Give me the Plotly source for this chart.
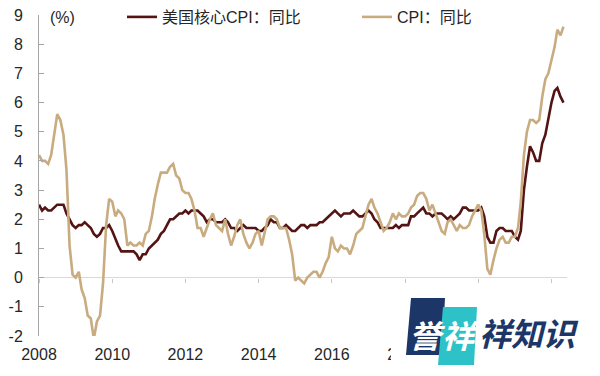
import pandas as pd
import plotly.graph_objects as go

# ---------------- data (monthly, Jan 2008 - May 2022), % YoY ----------------
start_month = "2008-01-01"
series_core_name = "美国核心CPI：同比"
series_cpi_name = "CPI：同比"

core_cpi = [
    2.5, 2.3, 2.4, 2.3, 2.3, 2.4, 2.5, 2.5, 2.5, 2.2, 2.0, 1.8,   # 2008
    1.7, 1.8, 1.8, 1.9, 1.8, 1.7, 1.5, 1.4, 1.5, 1.7, 1.7, 1.8,   # 2009
    1.6, 1.3, 1.1, 0.9, 0.9, 0.9, 0.9, 0.9, 0.8, 0.6, 0.8, 0.8,   # 2010
    1.0, 1.1, 1.2, 1.3, 1.5, 1.6, 1.8, 2.0, 2.0, 2.1, 2.2, 2.2,   # 2011
    2.3, 2.2, 2.3, 2.3, 2.3, 2.2, 2.1, 1.9, 2.0, 2.0, 1.9, 1.9,   # 2012
    1.9, 2.0, 1.9, 1.7, 1.7, 1.6, 1.7, 1.8, 1.7, 1.7, 1.7, 1.7,   # 2013
    1.6, 1.6, 1.7, 1.8, 2.0, 1.9, 1.9, 1.7, 1.7, 1.8, 1.7, 1.6,   # 2014
    1.6, 1.7, 1.8, 1.8, 1.7, 1.8, 1.8, 1.8, 1.9, 1.9, 2.0, 2.1,   # 2015
    2.2, 2.3, 2.2, 2.1, 2.2, 2.2, 2.2, 2.3, 2.2, 2.1, 2.1, 2.2,   # 2016
    2.3, 2.2, 2.0, 1.9, 1.7, 1.7, 1.7, 1.7, 1.7, 1.8, 1.7, 1.8,   # 2017
    1.8, 1.8, 2.1, 2.1, 2.2, 2.3, 2.4, 2.2, 2.2, 2.1, 2.2, 2.2,   # 2018
    2.2, 2.1, 2.0, 2.1, 2.0, 2.1, 2.2, 2.4, 2.4, 2.3, 2.3, 2.3,   # 2019
    2.3, 2.4, 2.1, 1.4, 1.2, 1.2, 1.6, 1.7, 1.7, 1.6, 1.6, 1.6,   # 2020
    1.4, 1.3, 1.6, 3.0, 3.8, 4.5, 4.3, 4.0, 4.0, 4.6, 4.9, 5.5,   # 2021
    6.0, 6.4, 6.5, 6.2, 6.0,                                      # 2022
]

headline_cpi = [
    4.2, 4.0, 4.0, 3.9, 4.2, 5.0, 5.6, 5.4, 4.9, 3.7, 1.1, 0.1,   # 2008
    0.0, 0.2, -0.4, -0.7, -1.3, -1.4, -2.1, -1.5, -1.3, -0.2, 1.8, 2.7,  # 2009
    2.6, 2.1, 2.3, 2.2, 2.0, 1.1, 1.2, 1.1, 1.1, 1.2, 1.1, 1.5,   # 2010
    1.6, 2.1, 2.7, 3.2, 3.6, 3.6, 3.6, 3.8, 3.9, 3.5, 3.4, 3.0,   # 2011
    2.9, 2.9, 2.7, 2.3, 1.7, 1.7, 1.4, 1.7, 2.0, 2.2, 1.8, 1.7,   # 2012
    1.6, 2.0, 1.5, 1.1, 1.4, 1.8, 2.0, 1.5, 1.2, 1.0, 1.2, 1.5,   # 2013
    1.6, 1.1, 1.5, 2.0, 2.1, 2.1, 2.0, 1.7, 1.7, 1.7, 1.3, 0.8,   # 2014
    -0.1, 0.0, -0.1, -0.2, 0.0, 0.1, 0.2, 0.2, 0.0, 0.2, 0.5, 0.7,  # 2015
    1.4, 1.0, 0.9, 1.1, 1.0, 1.0, 0.8, 1.1, 1.5, 1.6, 1.7, 2.1,   # 2016
    2.5, 2.7, 2.4, 2.2, 1.9, 1.6, 1.7, 1.9, 2.2, 2.0, 2.2, 2.1,   # 2017
    2.1, 2.2, 2.4, 2.5, 2.8, 2.9, 2.9, 2.7, 2.3, 2.5, 2.2, 1.9,   # 2018
    1.6, 1.5, 1.9, 2.0, 1.8, 1.6, 1.8, 1.7, 1.7, 1.8, 2.1, 2.3,   # 2019
    2.5, 2.3, 1.5, 0.3, 0.1, 0.6, 1.0, 1.3, 1.4, 1.2, 1.2, 1.4,   # 2020
    1.4, 1.7, 2.6, 4.2, 5.0, 5.4, 5.4, 5.3, 5.4, 6.2, 6.8, 7.0,   # 2021
    7.5, 7.9, 8.5, 8.3, 8.6,                                      # 2022
]

tick_years = [2008, 2010, 2012, 2014, 2016, 2018, 2020, 2022]
label_years = [2008, 2010, 2012, 2014, 2016, 2018]   # later labels hidden by the logo
y_ticks = list(range(-2, 10))
y_tick_text = [str(v) for v in y_ticks]   # plain hyphen for negatives, as in the source

months = pd.date_range(start_month, periods=len(core_cpi), freq="MS")
tick_dates = [f"{y}-01-01" for y in tick_years]
label_dates = [f"{y}-01-01" for y in label_years]
label_text = [str(y) for y in label_years]

# ---------------- layout helpers (pixel -> paper) ----------------
W, H = 600, 376
L, R, T, B = 39, 567, 15, 336


def pxx(x):
    return (x - L) / (R - L)


def pxy(y):
    return (B - y) / (B - T)


FONT = "Liberation Sans, Arial, Noto Sans CJK SC, sans-serif"
CJK = "Noto Sans CJK SC, sans-serif"
CORE_COLOR = "#541414"
CPI_COLOR = "#c9ab80"

fig = go.Figure()
fig.add_trace(go.Scatter(
    x=months, y=core_cpi, mode="lines", name=series_core_name,
    line=dict(color=CORE_COLOR, width=2.6), hoverinfo="skip"))
fig.add_trace(go.Scatter(
    x=months, y=headline_cpi, mode="lines", name=series_cpi_name,
    line=dict(color=CPI_COLOR, width=2.6), hoverinfo="skip"))
# invisible helper trace to render tick marks on the zero line
fig.add_trace(go.Scatter(
    x=months, y=core_cpi, mode="lines", xaxis="x2", showlegend=False,
    line=dict(color="rgba(0,0,0,0)", width=0), hoverinfo="skip"))

x_range = ["2008-01-01", "2022-06-05"]

fig.update_layout(
    width=W, height=H, autosize=False,
    margin=dict(l=L, r=W - R, t=T, b=H - B, pad=0, autoexpand=False),
    paper_bgcolor="white", plot_bgcolor="white",
    font=dict(family=FONT, size=16, color="#262626"),
    showlegend=True,
    legend=dict(
        orientation="h", x=pxx(122), xanchor="left", y=pxy(17), yanchor="middle",
        font=dict(family=FONT, size=16, color="#262626"),
        bgcolor="rgba(0,0,0,0)", borderwidth=0,
        entrywidth=190, entrywidthmode="pixels", itemwidth=30,
        traceorder="normal",
    ),
    xaxis=dict(
        type="date", range=x_range, tickvals=label_dates, ticktext=label_text,
        showline=False, ticks="", showgrid=False, zeroline=False,
        tickfont=dict(size=16, color="#262626"), ticklabelstandoff=7,
    ),
    xaxis2=dict(
        type="date", range=x_range, tickvals=tick_dates, overlaying="x",
        anchor="free", position=2 / 11, side="bottom",
        showline=False, ticks="outside", ticklen=4, tickcolor="#c8c8c8",
        tickwidth=1, showticklabels=False, showgrid=False, zeroline=False,
    ),
    yaxis=dict(
        range=[-2, 9], tickvals=y_ticks, ticktext=y_tick_text, showgrid=False,
        showline=True, linecolor="#a6a6a6", linewidth=1,
        ticks="inside", ticklen=5, tickcolor="#a6a6a6", tickwidth=1,
        zeroline=True, zerolinecolor="#d9d9d9", zerolinewidth=1.2,
        tickfont=dict(size=16, color="#262626"), ticklabelstandoff=12,
    ),
)

annotations = [
    dict(text="(%)", x=pxx(48), y=pxy(17), xref="paper", yref="paper",
         xanchor="left", yanchor="middle", showarrow=False,
         font=dict(family=FONT, size=16, color="#262626")),
]

# ---------------- watermark logo (decoration) ----------------
shapes = [
    dict(type="rect", xref="paper", yref="paper", layer="above",
         x0=pxx(391), x1=pxx(598), y0=pxy(372), y1=pxy(291),
         fillcolor="white", line=dict(width=0)),
    dict(type="path", xref="paper", yref="paper", layer="above",
         path=(f"M {pxx(411)},{pxy(298)} L {pxx(445)},{pxy(298)} "
               f"L {pxx(442)},{pxy(355)} L {pxx(406)},{pxy(355)} Z"),
         fillcolor="#1c3767", line=dict(width=0)),
    dict(type="path", xref="paper", yref="paper", layer="above",
         path=(f"M {pxx(443)},{pxy(307)} L {pxx(477)},{pxy(307)} "
               f"L {pxx(474)},{pxy(365)} L {pxx(438)},{pxy(365)} Z"),
         fillcolor="#2cc2c8", line=dict(width=0)),
]
logo_font = dict(family=CJK, size=32, weight="bold", style="italic")
annotations += [
    dict(text="誉", x=pxx(427), y=pxy(334), xref="paper", yref="paper",
         xanchor="center", yanchor="middle", showarrow=False,
         font=dict(color="white", **logo_font)),
    dict(text="祥", x=pxx(460), y=pxy(334), xref="paper", yref="paper",
         xanchor="center", yanchor="middle", showarrow=False,
         font=dict(color="white", **logo_font)),
    dict(text="祥知识", x=pxx(529), y=pxy(332), xref="paper", yref="paper",
         xanchor="center", yanchor="middle", showarrow=False,
         font=dict(color="#1c3767", **logo_font)),
]

fig.update_layout(shapes=shapes, annotations=annotations)
fig.write_html("out.html")
